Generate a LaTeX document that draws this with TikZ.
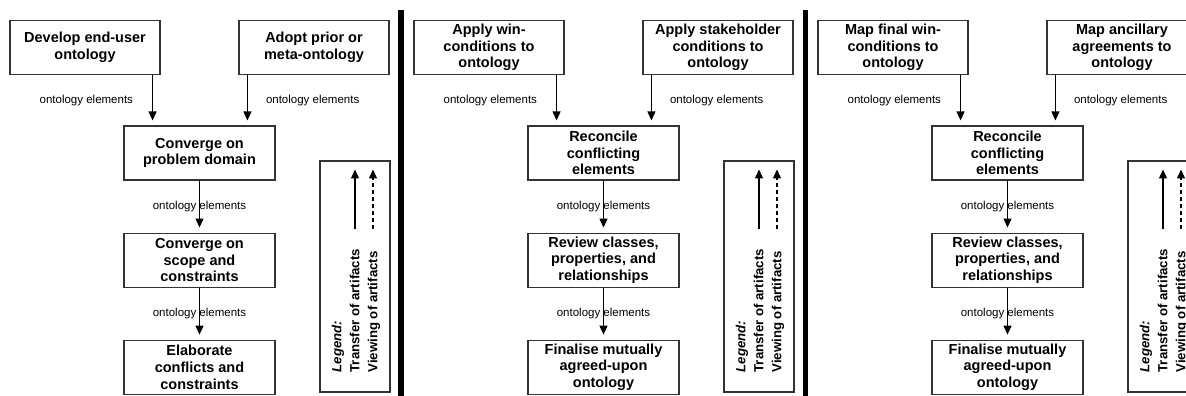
\documentclass[tikz,border=0pt]{standalone}
\usepackage{fontspec}
\setmainfont{Liberation Sans}
\usetikzlibrary{arrows.meta,positioning}

\begin{document}
\begin{tikzpicture}[x=1pt,y=-1pt,>={Triangle[length=9pt,width=8pt]},node distance=52pt,
			taskbox/.style={draw=black!80,line width=1.1pt,minimum width=151pt,minimum height=54pt,
				inner sep=1pt,align=center,font=\bfseries\fontsize{14.5}{16.7}\selectfont},
			flow/.style={->,line width=1.1pt,shorten >=5pt},
			elabel/.style={inner sep=0pt,font=\fontsize{11.5}{13}\selectfont},
			legendbox/.style={draw=black!80,line width=1.1pt,minimum width=70pt,minimum height=231pt},
			legendtext/.style={rotate=90,anchor=north west,inner sep=0pt,align=left,
				font=\bfseries\fontsize{13.2}{18}\selectfont}]
			\useasboundingbox (0,0) rectangle (1186,396);
			\clip (0,0) rectangle (1186,396);
			% panel 1
			\node[taskbox,minimum width=150pt] (A1) at (85,47.5)  {Develop end-user\\ontology};
			\node[taskbox,minimum width=150pt] (B1) at (314,47.5) {Adopt prior or\\meta-ontology};
			\node[taskbox] (C1) at (199.5,153) {Converge on\\problem domain};
			\node[taskbox] (D1) [below=of C1] {Converge on\\scope and\\constraints};
			\node[taskbox] (E1) [below=of D1] {Elaborate\\conflicts and\\constraints};
			\path ([xshift=-8pt]A1.south east) edge[flow] node[elabel,left=19pt] {ontology elements} ([xshift=-8pt]A1.south east |- C1.north)
			([xshift=9pt]B1.south west) edge[flow] node[elabel,right=18pt] {ontology elements} ([xshift=9pt]B1.south west |- C1.north)
			(C1) edge[flow] node[elabel] {ontology elements} (D1)
			(D1) edge[flow] node[elabel] {ontology elements} (E1);
			\node[legendbox] (L1) at (355,276.5) {};
			\coordinate[below=69pt of L1.north] (L1s);
			\coordinate[below=9pt of L1.north] (L1e);
			\draw[->,line width=1.1pt] (L1s) -- (L1e);
			\draw[->,line width=1.1pt,dash pattern=on 4pt off 3pt] ([xshift=18pt]L1s) -- ([xshift=18pt]L1e);
			\node[legendtext] (G1) at ([xshift=-23.5pt,yshift=20pt]L1.south) {\textit{Legend:}\\Transfer of artifacts\\Viewing of artifacts};
			\draw[line width=5.5pt] (401,10) -- (401,396);
			% panel 2
			\node[taskbox,minimum width=150pt] (A2) at (489,47.5) {Apply win-\\conditions to\\ontology};
			\node[taskbox,minimum width=150pt] (B2) at (718,47.5) {Apply stakeholder\\conditions to\\ontology};
			\node[taskbox] (C2) at (603.5,153) {Reconcile\\conflicting\\elements};
			\node[taskbox] (D2) [below=of C2] {Review classes,\\properties, and\\relationships};
			\node[taskbox] (E2) [below=of D2] {Finalise mutually\\agreed-upon\\ontology};
			\path ([xshift=-8pt]A2.south east) edge[flow] node[elabel,left=19pt] {ontology elements} ([xshift=-8pt]A2.south east |- C2.north)
			([xshift=9pt]B2.south west) edge[flow] node[elabel,right=18pt] {ontology elements} ([xshift=9pt]B2.south west |- C2.north)
			(C2) edge[flow] node[elabel] {ontology elements} (D2)
			(D2) edge[flow] node[elabel] {ontology elements} (E2);
			\node[legendbox] (L2) at (759,276.5) {};
			\coordinate[below=69pt of L2.north] (L2s);
			\coordinate[below=9pt of L2.north] (L2e);
			\draw[->,line width=1.1pt] (L2s) -- (L2e);
			\draw[->,line width=1.1pt,dash pattern=on 4pt off 3pt] ([xshift=18pt]L2s) -- ([xshift=18pt]L2e);
			\node[legendtext] (G2) at ([xshift=-23.5pt,yshift=20pt]L2.south) {\textit{Legend:}\\Transfer of artifacts\\Viewing of artifacts};
			\draw[line width=5.5pt] (805.5,10) -- (805.5,396);
			% panel 3
			\node[taskbox,minimum width=150pt] (A3) at (893,47.5)  {Map final win-\\conditions to\\ontology};
			\node[taskbox,minimum width=150pt] (B3) at (1122,47.5) {Map ancillary\\agreements to\\ontology};
			\node[taskbox] (C3) at (1007.5,153) {Reconcile\\conflicting\\elements};
			\node[taskbox] (D3) [below=of C3] {Review classes,\\properties, and\\relationships};
			\node[taskbox] (E3) [below=of D3] {Finalise mutually\\agreed-upon\\ontology};
			\path ([xshift=-8pt]A3.south east) edge[flow] node[elabel,left=19pt] {ontology elements} ([xshift=-8pt]A3.south east |- C3.north)
			([xshift=9pt]B3.south west) edge[flow] node[elabel,right=18pt] {ontology elements} ([xshift=9pt]B3.south west |- C3.north)
			(C3) edge[flow] node[elabel] {ontology elements} (D3)
			(D3) edge[flow] node[elabel] {ontology elements} (E3);
			\node[legendbox] (L3) at (1163,276.5) {};
			\coordinate[below=69pt of L3.north] (L3s);
			\coordinate[below=9pt of L3.north] (L3e);
			\draw[->,line width=1.1pt] (L3s) -- (L3e);
			\draw[->,line width=1.1pt,dash pattern=on 4pt off 3pt] ([xshift=18pt]L3s) -- ([xshift=18pt]L3e);
			\node[legendtext] (G3) at ([xshift=-23.5pt,yshift=20pt]L3.south) {\textit{Legend:}\\Transfer of artifacts\\Viewing of artifacts};
		\end{tikzpicture}
\end{document}
